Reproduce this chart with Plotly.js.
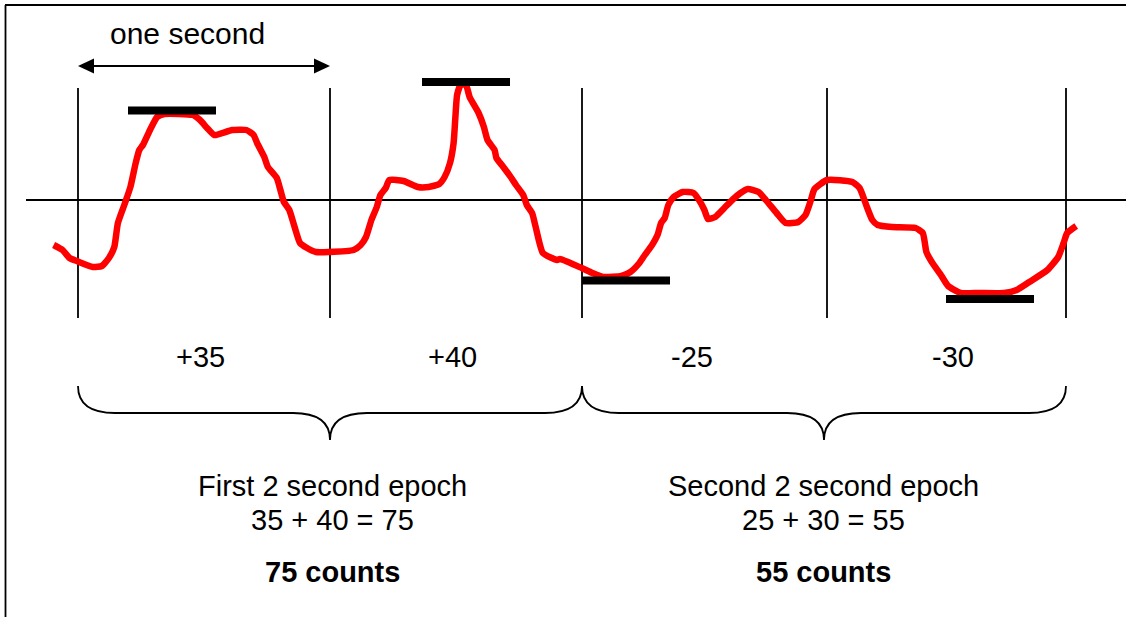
<!DOCTYPE html>
<html>
<head>
<meta charset="utf-8">
<script src="https://cdn.plot.ly/plotly-3.0.1.min.js"></script>
<style>html,body{margin:0;padding:0;background:#fff;}#chart{width:1126px;height:617px;}</style>
</head>
<body>
<div id="chart"></div>
<script>
// ---- data (x in horizontal position units, y = signal amplitude, 0 = baseline) ----
const waveX = [53.6,62.5,69.6,76.8,92.9,101.8,108.9,114.3,117.9,125,130.4,135.7,139.3,142.9,150,157.1,164.3,192.9,200,207.1,214.3,232.1,246.4,253.6,257.1,264.3,267.9,276.8,280.4,283.9,289.3,294.6,300,307.1,316,328.6,353.6,360.7,366,371.4,376.8,380.4,385.7,389.3,403.6,417.9,428.6,439.3,444.6,450,453.6,455.4,457.1,460.7,466,469.6,478.6,483.9,487.5,494.6,496.4,501.8,510.7,516,523.2,526.8,532.1,535.7,542.9,557.1,560,
  581.7,592.5,603.3,621.4,630.4,639.4,644.8,652.1,657.5,661.1,664.7,668.3,673.7,682.7,693.6,699,704.4,708,715.2,724.3,733.3,740.5,747.7,758.6,765.8,776.6,785.6,798.3,805.5,810.9,814.5,827.1,852.4,859.6,866.9,872.3,877.7,892.1,915.6,922.8,926.4,931.8,940.9,948.1,960.7,978.8,1004,1016.7,1029.3,1047.4,1058.2,1063.6,1067.2,1076.2];
const waveY = [-45,-50,-58,-61,-67,-66,-58,-47,-23,-3,13,37,50,55,70,83,86,85,80,72,65,70,70,65,57,43,33,22,10,-2,-10,-27,-43,-48,-52,-52,-50,-45,-37,-20,-7,5,12,20,19,13,13,16,23,37,57,83,105,115,115,103,87,73,60,50,42,35,23,15,5,-5,-13,-27,-53,-60,-59,
  -68,-73,-77,-76,-72,-63,-55,-45,-35,-23,-18,-5,3,8,7,0,-10,-19,-17,-8,1,7,11,8,0,-13,-23,-22,-15,0,11,20,18,12,-7,-20,-25,-27,-28,-33,-52,-62,-75,-86,-93,-93,-93,-90,-82,-70,-57,-43,-33,-26];

const secondMarks = [78, 330, 582, 827, 1066];       // one-second boundaries
const peakBarStart = [128, 422, 582, 946];
const peakBarEnd   = [216, 510, 670, 1034];
const peakBarLevel = [89.5, 118, -80.5, -99];
const secondLabels = ['+35', '+40', '-25', '-30'];
const labelX = [200, 452, 692, 953];

const epochStart = [78, 582];
const epochEnd   = [582, 1066];
const epochCenter = [330, 824];
const epochTextX  = [332, 823];
const epochTitles = ['First 2 second epoch', 'Second 2 second epoch'];
const epochSums   = ['35 + 40 = 75', '25 + 30 = 55'];
const epochCounts = ['75 counts', '55 counts'];

const arrowStart = 78, arrowEnd = 330, arrowLevel = 134;
const arrowLabel = 'one second', arrowLabelX = 187;

// ---- build ----
const FONT = 'Arial, "Liberation Sans", sans-serif';
const traces = [];

// vertical boundaries
const vx = [], vy = [];
secondMarks.forEach(m => { vx.push(m, m, null); vy.push(112, -118, null); });
traces.push({x: vx, y: vy, mode: 'lines', line: {color: '#000', width: 1.8}, hoverinfo: 'skip'});

// baseline
traces.push({x: [26, 1126], y: [0, 0], mode: 'lines', line: {color: '#000', width: 1.8}, hoverinfo: 'skip'});

// wave
traces.push({x: waveX, y: waveY, mode: 'lines', line: {color: '#ff0000', width: 6.5, shape: 'spline', smoothing: 0.5}, hoverinfo: 'skip'});

// peak bars
peakBarStart.forEach((s, i) => {
  traces.push({x: [s, peakBarEnd[i]], y: [peakBarLevel[i], peakBarLevel[i]], mode: 'lines',
    line: {color: '#000', width: 8}, hoverinfo: 'skip'});
});

// arrow shaft
const headLen = 16, headHalf = 7.5;
traces.push({x: [arrowStart + headLen - 1, arrowEnd - headLen + 1], y: [arrowLevel, arrowLevel], mode: 'lines',
  line: {color: '#000', width: 1.8}, hoverinfo: 'skip'});

const shapes = [];
// frame (top and left)
shapes.push({type: 'line', xref: 'x', yref: 'y', x0: 5, x1: 1126, y0: 195, y1: 195, line: {color: '#000', width: 1.8}});
shapes.push({type: 'line', xref: 'x', yref: 'y', x0: 5.5, x1: 5.5, y0: 195, y1: -417, line: {color: '#000', width: 1.8}});
// arrow heads
shapes.push({type: 'path', xref: 'x', yref: 'y',
  path: `M ${arrowStart} ${arrowLevel} L ${arrowStart + headLen} ${arrowLevel + headHalf} L ${arrowStart + headLen} ${arrowLevel - headHalf} Z`,
  fillcolor: '#000', line: {width: 0}});
shapes.push({type: 'path', xref: 'x', yref: 'y',
  path: `M ${arrowEnd} ${arrowLevel} L ${arrowEnd - headLen} ${arrowLevel + headHalf} L ${arrowEnd - headLen} ${arrowLevel - headHalf} Z`,
  fillcolor: '#000', line: {width: 0}});
// braces
const bTop = -186, bMid = -213, bTip = -240, curl = 37;
epochStart.forEach((s, i) => {
  const e = epochEnd[i], c = epochCenter[i];
  const p = `M ${s} ${bTop} Q ${s} ${bMid} ${s + curl} ${bMid} L ${c - curl} ${bMid} Q ${c} ${bMid} ${c} ${bTip} ` +
            `Q ${c} ${bMid} ${c + curl} ${bMid} L ${e - curl} ${bMid} Q ${e} ${bMid} ${e} ${bTop}`;
  shapes.push({type: 'path', xref: 'x', yref: 'y', path: p, line: {color: '#000', width: 1.8}});
});

const annotations = [];
function txt(x, y, t, size, bold) {
  annotations.push({x: x, y: y, xref: 'x', yref: 'y', text: bold ? '<b>' + t + '</b>' : t, showarrow: false,
    xanchor: 'center', yanchor: 'middle', font: {family: FONT, size: size, color: '#000'}});
}
txt(arrowLabelX, 167, arrowLabel, 30, false);
secondLabels.forEach((l, i) => txt(labelX[i], -157, l, 29, false));
epochTextX.forEach((c, i) => {
  txt(c, -286, epochTitles[i], 29, false);
  txt(c, -320, epochSums[i], 29, false);
  txt(c, -372, epochCounts[i], 29, true);
});

const layout = {
  width: 1126, height: 617,
  margin: {l: 0, r: 0, t: 0, b: 0, pad: 0},
  paper_bgcolor: '#fff', plot_bgcolor: '#fff',
  showlegend: false,
  xaxis: {range: [0, 1126], visible: false, fixedrange: true},
  yaxis: {range: [-417, 200], visible: false, fixedrange: true},
  shapes: shapes, annotations: annotations
};
Plotly.newPlot('chart', traces, layout, {staticPlot: true, displayModeBar: false});
</script>
</body>
</html>
